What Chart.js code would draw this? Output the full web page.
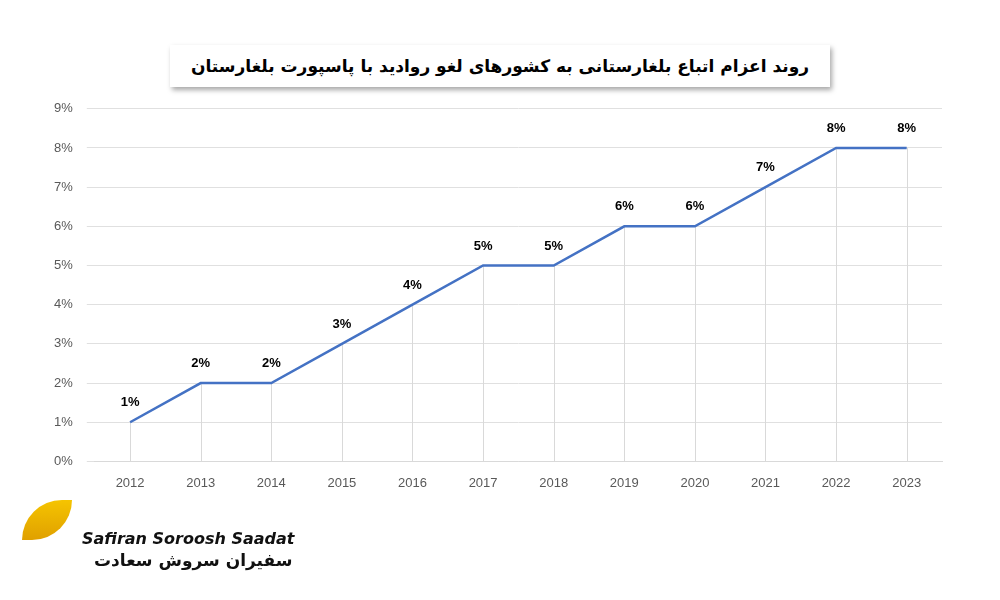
<!DOCTYPE html>
<html><head><meta charset="utf-8">
<script src="https://cdn.jsdelivr.net/npm/chart.js@4"></script>
<style>
body{margin:0;width:1000px;height:600px;background:#fff;position:relative;overflow:hidden;font-family:"Noto Sans",sans-serif}
#wrap{position:absolute;left:40px;top:87px;width:920px;height:410px}
#title{position:absolute;left:170px;top:45px;width:660px;height:42px;box-shadow:2px 3px 5px rgba(0,0,0,0.35);background:#fff;text-align:center;font:bold 17px "DejaVu Sans",sans-serif;line-height:42px;direction:rtl;color:#000;white-space:nowrap;overflow:hidden}
#logo{position:absolute;left:22px;top:495px;width:300px;height:80px}
#logo div{white-space:nowrap}
</style></head><body>
<div id="title">روند اعزام اتباع بلغارستانی به کشورهای لغو روادید با پاسپورت بلغارستان</div>
<div id="wrap"><canvas id="c"></canvas></div>
<div id="logo">
<div style="position:absolute;left:0;top:5px;width:50px;height:40px;background:linear-gradient(#f5c400,#e0a000);border-radius:40px 0 40px 0"></div>
<div style="position:absolute;left:60px;top:34px;font:italic bold 16px 'DejaVu Sans',sans-serif;color:#111">Safiran Soroosh Saadat</div>
<div style="position:absolute;left:72px;top:55px;font:bold 17px 'DejaVu Sans',sans-serif;color:#111;direction:rtl">سفیران سروش سعادت</div>
</div>
<script>
const years=['2012','2013','2014','2015','2016','2017','2018','2019','2020','2021','2022','2023'];
const values=[1,2,2,3,4,5,5,6,6,7,8,8];
const yTicks=[0,1,2,3,4,5,6,7,8,9];
const plug={id:'p',beforeDatasetsDraw(ch){const x=ch.scales.x,y=ch.scales.y,c=ch.ctx;c.save();c.strokeStyle='#d9d9d9';c.lineWidth=1;
values.forEach((v,i)=>{const px=Math.round(x.getPixelForValue(i))+0.5;c.beginPath();c.moveTo(px,y.getPixelForValue(0));c.lineTo(px,y.getPixelForValue(v));c.stroke();});c.restore();},
afterDatasetsDraw(ch){const x=ch.scales.x,y=ch.scales.y,c=ch.ctx;c.save();c.font='bold 13px "Liberation Sans",sans-serif';c.fillStyle='#000';c.textAlign='center';
values.forEach((v,i)=>c.fillText(v+'%',x.getPixelForValue(i),y.getPixelForValue(v)-16));c.restore();}};
new Chart(document.getElementById('c'),{type:'line',data:{labels:years,datasets:[{data:values,borderColor:'#4472c4',borderWidth:2.5,pointRadius:0,tension:0}]},
options:{responsive:true,maintainAspectRatio:false,animation:false,layout:{padding:{right:18,top:8}},plugins:{legend:{display:false},tooltip:{enabled:false}},
scales:{x:{offset:true,grid:{display:false},border:{color:'#d9d9d9'},ticks:{color:'#595959',font:{size:13,family:'Liberation Sans'},padding:6}},
y:{min:0,max:9,afterBuildTicks(s){s.ticks=yTicks.map(v=>({value:v}))},grid:{color:'#e0e0e0'},border:{display:false},ticks:{color:'#595959',font:{size:13,family:'Liberation Sans'},padding:14,callback:v=>v+'%'}}}},
plugins:[plug]});
</script></body></html>
